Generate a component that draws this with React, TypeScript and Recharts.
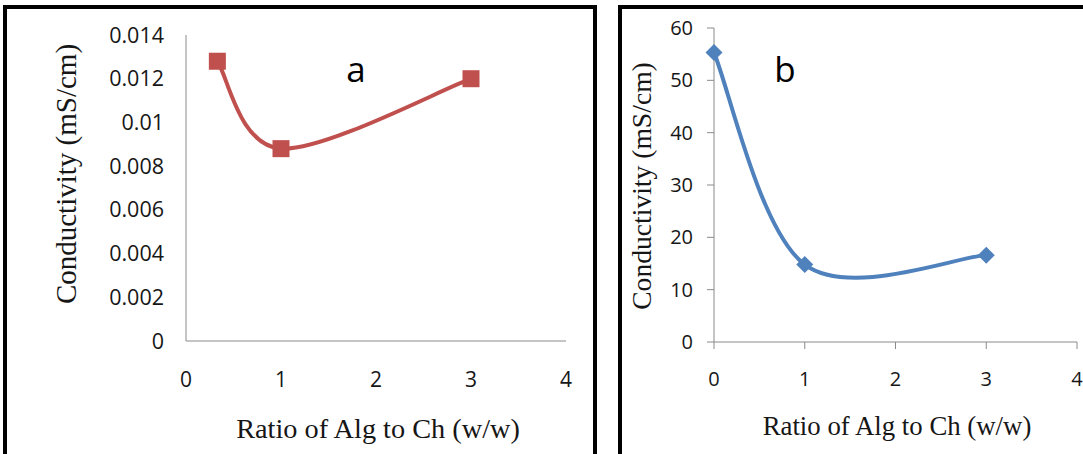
import React from "react";
import { LineChart, Line, XAxis, YAxis } from "recharts";

// panel a
const ratioA = [0.33, 1, 3];
const condA = [0.0128, 0.0088, 0.012];
const yTicksA = [0, 0.002, 0.004, 0.006, 0.008, 0.01, 0.012, 0.014];

// panel b
const ratioB = [0, 1, 3];
const condB = [55.3, 14.8, 16.6];
const yTicksB = [0, 10, 20, 30, 40, 50, 60];

const xTicks = [0, 1, 2, 3, 4];
const xTitle = "Ratio of Alg to Ch (w/w)";
const yTitle = "Conductivity (mS/cm)";

const dataA = ratioA.map((x, i) => ({ x, y: condA[i] }));
const dataB = ratioB.map((x, i) => ({ x, y: condB[i] }));

const RED = "#C0504D";
const BLUE = "#4F81BD";
const AXIS = "#8a8a8a";
const TEXT = "#161616";
const SERIF = "'Liberation Serif', 'Times New Roman', serif";
const SANS = "'Open Sans', sans-serif";

// Excel-like smoothed line (catmull-rom as bezier)
const excelSmooth = (context: any) => {
  let pts: number[][] = [];
  return {
    areaStart() {},
    areaEnd() {},
    lineStart() {
      pts = [];
    },
    point(x: number, y: number) {
      pts.push([+x, +y]);
    },
    lineEnd() {
      const n = pts.length;
      if (!n) return;
      context.moveTo(pts[0][0], pts[0][1]);
      for (let i = 0; i < n - 1; i++) {
        const p0 = pts[Math.max(i - 1, 0)];
        const p1 = pts[i];
        const p2 = pts[i + 1];
        const p3 = pts[Math.min(i + 2, n - 1)];
        context.bezierCurveTo(
          p1[0] + (p2[0] - p0[0]) / 6,
          p1[1] + (p2[1] - p0[1]) / 6,
          p2[0] - (p3[0] - p1[0]) / 6,
          p2[1] - (p3[1] - p1[1]) / 6,
          p2[0],
          p2[1]
        );
      }
    },
  };
};

const SquareDot = (props: any) => {
  const { cx, cy, index } = props;
  if (cx == null || cy == null) return null;
  return <rect key={index} x={cx - 8.5} y={cy - 8.5} width={17} height={17} fill={RED} />;
};

const DiamondDot = (props: any) => {
  const { cx, cy, index } = props;
  if (cx == null || cy == null) return null;
  const r = 8.5;
  return (
    <polygon
      key={index}
      points={`${cx},${cy - r} ${cx + r},${cy} ${cx},${cy + r} ${cx - r},${cy}`}
      fill={BLUE}
    />
  );
};

const boxStyle = (left: number, width: number): React.CSSProperties => ({
  position: "absolute",
  left,
  top: 5,
  width,
  height: 470,
  border: "4px solid #000",
  boxSizing: "border-box",
});

export default function App() {
  return (
    <div
      style={{
        position: "absolute",
        left: 0,
        top: 0,
        width: 1083,
        height: 454,
        overflow: "hidden",
        background: "#fff",
      }}
    >
      <div style={boxStyle(3, 594)} />
      <div style={boxStyle(618, 520)} />

      <div style={{ position: "absolute", left: 0, top: 0 }}>
        <LineChart
          width={600}
          height={454}
          data={dataA}
          margin={{ top: 35, right: 34, left: 126, bottom: 53 }}
        >
          <XAxis
            dataKey="x"
            type="number"
            domain={[0, 4]}
            ticks={xTicks}
            height={60}
            stroke={AXIS}
            tickLine={false}
            tickSize={0}
            tickMargin={31}
            tick={{ fill: TEXT, fontSize: 21, fontFamily: SANS }}
          />
          <YAxis
            type="number"
            domain={[0, 0.014]}
            ticks={yTicksA}
            width={60}
            stroke={AXIS}
            tickLine={false}
            tickSize={0}
            tickMargin={22}
            tickFormatter={(v) => String(v)}
            tick={{ fill: TEXT, fontSize: 21.5, fontFamily: SANS }}
          />
          <Line
            dataKey="y"
            type={excelSmooth as any}
            stroke={RED}
            strokeWidth={4}
            dot={SquareDot}
            activeDot={false}
            isAnimationActive={false}
          />
        </LineChart>
      </div>

      <div style={{ position: "absolute", left: 600, top: 0 }}>
        <LineChart
          width={483}
          height={454}
          data={dataB}
          margin={{ top: 28, right: 6, left: 54, bottom: 52 }}
        >
          <XAxis
            dataKey="x"
            type="number"
            domain={[0, 4]}
            ticks={xTicks}
            height={60}
            stroke={AXIS}
            tickSize={7}
            tickMargin={23}
            tick={{ fill: TEXT, fontSize: 20, fontFamily: SANS }}
          />
          <YAxis
            type="number"
            domain={[0, 60]}
            ticks={yTicksB}
            width={60}
            stroke={AXIS}
            tickSize={7}
            tickMargin={14}
            tick={{ fill: TEXT, fontSize: 20, fontFamily: SANS }}
          />
          <Line
            dataKey="y"
            type={excelSmooth as any}
            stroke={BLUE}
            strokeWidth={4}
            dot={DiamondDot}
            activeDot={false}
            isAnimationActive={false}
          />
        </LineChart>
      </div>

      <svg
        width={1083}
        height={454}
        style={{ position: "absolute", left: 0, top: 0, pointerEvents: "none" }}
      >
        <text
          x={66}
          y={174}
          transform="rotate(-90 66 174)"
          textAnchor="middle"
          dominantBaseline="central"
          fontFamily={SERIF}
          fontSize={29}
          fill={TEXT}
        >
          {yTitle}
        </text>
        <text x={378} y={438} textAnchor="middle" fontFamily={SERIF} fontSize={28.3} fill={TEXT}>
          {xTitle}
        </text>
        <text x={356} y={82} textAnchor="middle" fontFamily={SANS} fontSize={35} fill="#000">
          a
        </text>

        <text
          x={641}
          y={186}
          transform="rotate(-90 641 186)"
          textAnchor="middle"
          dominantBaseline="central"
          fontFamily={SERIF}
          fontSize={27.6}
          fill={TEXT}
        >
          {yTitle}
        </text>
        <text x={897} y={435} textAnchor="middle" fontFamily={SERIF} fontSize={26.8} fill={TEXT}>
          {xTitle}
        </text>
        <text x={785} y={82} textAnchor="middle" fontFamily={SANS} fontSize={35} fill="#000">
          b
        </text>
      </svg>
    </div>
  );
}
